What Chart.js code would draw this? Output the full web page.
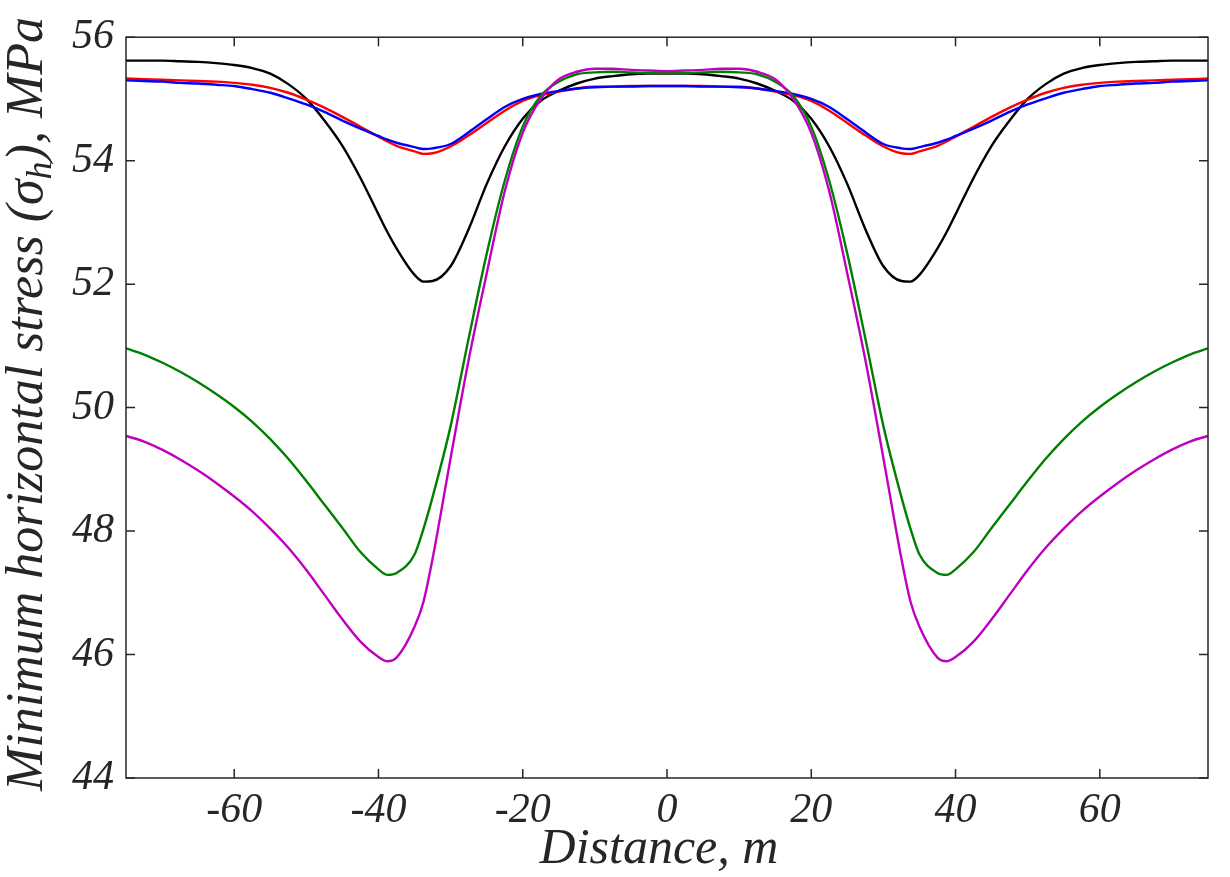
<!DOCTYPE html>
<html>
<head>
<meta charset="utf-8">
<title>Minimum horizontal stress</title>
<script src="https://cdn.jsdelivr.net/npm/chart.js@4.4.0/dist/chart.umd.min.js"></script>
<style>
  html, body { margin: 0; padding: 0; background: #fff; overflow: hidden; }
  #wrap { width: 1230px; height: 877px; position: relative; }
</style>
</head>
<body>
<div id="wrap"><canvas id="stressChart"></canvas></div>
<script>
// Distance along the section, m
var distance = [-75, -72.5, -70, -67.5, -65, -62.5, -60, -57.5, -55, -52.5, -50, -47.5, -45, -42.5, -40, -38.75, -37.5, -35, -33.75, -32.5, -30, -27.5, -25, -22.5, -20, -17.5, -15, -12.5, -10, -7.5, -5, -2.5,
                0,
                2.5, 5, 7.5, 10, 12.5, 15, 17.5, 20, 22.5, 25, 27.5, 30, 32.5, 33.75, 35, 37.5, 38.75, 40, 42.5, 45, 47.5, 50, 52.5, 55, 57.5, 60, 62.5, 65, 67.5, 70, 72.5, 75];

// Minimum horizontal stress, MPa
var stressBlack = [55.62, 55.62, 55.62, 55.61, 55.60, 55.58, 55.55, 55.50, 55.41, 55.24, 55.00, 54.65, 54.24, 53.72, 53.13, 52.84, 52.58, 52.15, 52.04, 52.05, 52.29, 52.89, 53.62, 54.23, 54.68, 54.97, 55.13, 55.25, 55.33, 55.37, 55.40, 55.41,
                   55.41,
                   55.41, 55.40, 55.37, 55.33, 55.25, 55.13, 54.97, 54.68, 54.23, 53.62, 52.89, 52.29, 52.05, 52.04, 52.15, 52.58, 52.84, 53.13, 53.72, 54.24, 54.65, 55.00, 55.24, 55.41, 55.50, 55.55, 55.58, 55.60, 55.61, 55.62, 55.62, 55.62];

var stressRed = [55.33, 55.32, 55.31, 55.30, 55.29, 55.28, 55.26, 55.23, 55.18, 55.10, 54.99, 54.86, 54.71, 54.55, 54.39, 54.31, 54.24, 54.15, 54.11, 54.12, 54.23, 54.41, 54.61, 54.81, 54.97, 55.06, 55.12, 55.17, 55.20, 55.20, 55.21, 55.21,
                 55.21,
                 55.21, 55.21, 55.20, 55.20, 55.17, 55.12, 55.06, 54.97, 54.81, 54.61, 54.41, 54.23, 54.12, 54.11, 54.15, 54.24, 54.31, 54.39, 54.55, 54.71, 54.86, 54.99, 55.10, 55.18, 55.23, 55.26, 55.28, 55.29, 55.30, 55.31, 55.32, 55.33];

var stressBlue = [55.30, 55.29, 55.28, 55.26, 55.25, 55.23, 55.21, 55.16, 55.10, 55.01, 54.91, 54.79, 54.65, 54.52, 54.40, 54.34, 54.29, 54.22, 54.19, 54.20, 54.27, 54.46, 54.67, 54.87, 55.00, 55.08, 55.13, 55.17, 55.19, 55.20, 55.20, 55.21,
                  55.21,
                  55.21, 55.20, 55.20, 55.19, 55.17, 55.13, 55.08, 55.00, 54.87, 54.67, 54.46, 54.27, 54.20, 54.19, 54.22, 54.29, 54.34, 54.40, 54.52, 54.65, 54.79, 54.91, 55.01, 55.10, 55.16, 55.21, 55.23, 55.25, 55.26, 55.28, 55.29, 55.30];

var stressGreen = [50.96, 50.86, 50.73, 50.58, 50.41, 50.22, 50.01, 49.77, 49.49, 49.17, 48.81, 48.43, 48.05, 47.66, 47.38, 47.29, 47.32, 47.62, 48.04, 48.55, 49.70, 51.12, 52.49, 53.67, 54.55, 55.05, 55.28, 55.40, 55.43, 55.44, 55.43, 55.42,
                   55.42,
                   55.42, 55.43, 55.44, 55.43, 55.40, 55.28, 55.05, 54.55, 53.67, 52.49, 51.12, 49.70, 48.55, 48.04, 47.62, 47.32, 47.29, 47.38, 47.66, 48.05, 48.43, 48.81, 49.17, 49.49, 49.77, 50.01, 50.22, 50.41, 50.58, 50.73, 50.86, 50.96];

var stressMagenta = [49.54, 49.45, 49.32, 49.16, 48.98, 48.78, 48.56, 48.32, 48.04, 47.73, 47.37, 46.97, 46.57, 46.21, 45.96, 45.89, 45.95, 46.45, 46.86, 47.55, 49.18, 50.77, 52.17, 53.50, 54.45, 55.00, 55.32, 55.44, 55.49, 55.49, 55.47, 55.46,
                     55.45,
                     55.46, 55.47, 55.49, 55.49, 55.44, 55.32, 55.00, 54.45, 53.50, 52.17, 50.77, 49.18, 47.55, 46.86, 46.45, 45.95, 45.89, 45.96, 46.21, 46.57, 46.97, 47.37, 47.73, 48.04, 48.32, 48.56, 48.78, 48.98, 49.16, 49.32, 49.45, 49.54];

// Tick labels
var xTicks = [-60, -40, -20, 0, 20, 40, 60];
var yTicks = [44, 46, 48, 50, 52, 54, 56];

var axisColor = '#262626';
var fontFamily = "'Liberation Serif', serif";
var tickLen = 9;

function toPoints(xs, ys) {
    return xs.map(function (x, i) { return { x: x, y: ys[i] }; });
}

function line(label, values, color, order) {
    return {
        label: label,
        data: toPoints(distance, values),
        borderColor: color,
        backgroundColor: color,
        borderWidth: 2.4,
        pointRadius: 0,
        fill: false,
        cubicInterpolationMode: 'monotone',
        order: order
    };
}

// MATLAB style box with inward ticks on all four sides
var boxPlugin = {
    id: 'boxTicks',
    afterDatasetsDraw: function (chart) {
        var ctx = chart.ctx, a = chart.chartArea;
        var xs = chart.scales.x, ys = chart.scales.y;
        ctx.save();
        ctx.strokeStyle = axisColor;
        ctx.lineWidth = 1.5;
        ctx.strokeRect(a.left, a.top, a.right - a.left, a.bottom - a.top);
        ctx.beginPath();
        xTicks.forEach(function (v) {
            var px = xs.getPixelForValue(v);
            ctx.moveTo(px, a.bottom); ctx.lineTo(px, a.bottom - tickLen);
            ctx.moveTo(px, a.top); ctx.lineTo(px, a.top + tickLen);
        });
        yTicks.forEach(function (v) {
            var py = ys.getPixelForValue(v);
            ctx.moveTo(a.left, py); ctx.lineTo(a.left + tickLen, py);
            ctx.moveTo(a.right, py); ctx.lineTo(a.right - tickLen, py);
        });
        ctx.stroke();
        ctx.restore();
    }
};

// axis titles; the y one carries a subscript h
var titlePlugin = {
    id: 'axisTitles',
    afterDraw: function (chart) {
        var ctx = chart.ctx;
        var big = 'italic 52px ' + fontFamily;
        var small = 'italic 36px ' + fontFamily;
        var parts = [
            { t: 'Minimum horizontal stress (\u03c3', f: big, dy: 0 },
            { t: 'h', f: small, dy: 9 },
            { t: '), MPa', f: big, dy: 0 }
        ];
        var total = 0;
        parts.forEach(function (p) { ctx.font = p.f; p.w = ctx.measureText(p.t).width; total += p.w; });
        ctx.save();
        ctx.fillStyle = axisColor;
        ctx.textBaseline = 'alphabetic';

        ctx.font = 'italic 50px ' + fontFamily;
        ctx.textAlign = 'center';
        ctx.fillText('Distance, m', 659, 863);

        ctx.translate(42, 404);
        ctx.rotate(-Math.PI / 2);
        ctx.textAlign = 'left';
        var x = -total / 2;
        parts.forEach(function (p) {
            ctx.font = p.f;
            ctx.fillText(p.t, x, p.dy);
            x += p.w;
        });
        ctx.restore();
    }
};

document.addEventListener('DOMContentLoaded', function () {
    var ctx = document.getElementById('stressChart').getContext('2d');
    var stressChart = new Chart(ctx, {
        type: 'line',
        data: {
            datasets: [
                line('Black', stressBlack, '#000000', 5),
                line('Red', stressRed, '#ff0000', 4),
                line('Blue', stressBlue, '#0000ff', 3),
                line('Green', stressGreen, '#008000', 2),
                line('Magenta', stressMagenta, '#c000c0', 1)
            ]
        },
        options: {
            responsive: true,
            maintainAspectRatio: false,
            animation: false,
            layout: { padding: { top: 27, right: 22, left: 0, bottom: 0 } },
            plugins: {
                legend: { display: false },
                tooltip: { enabled: false }
            },
            scales: {
                x: {
                    type: 'linear',
                    min: -75,
                    max: 75,
                    grid: { display: false, drawTicks: false },
                    border: { display: false },
                    afterBuildTicks: function (axis) {
                        axis.ticks = xTicks.map(function (v) { return { value: v }; });
                    },
                    afterFit: function (scale) { scale.height = 99; },
                    ticks: {
                        color: axisColor,
                        padding: 8,
                        maxRotation: 0,
                        font: { family: fontFamily, style: 'italic', size: 42 }
                    }
                },
                y: {
                    type: 'linear',
                    min: 44,
                    max: 56,
                    grid: { display: false, drawTicks: false },
                    border: { display: false },
                    afterBuildTicks: function (axis) {
                        axis.ticks = yTicks.map(function (v) { return { value: v }; });
                    },
                    afterFit: function (scale) { scale.width = 126; },
                    ticks: {
                        color: axisColor,
                        padding: 12,
                        font: { family: fontFamily, style: 'italic', size: 42 }
                    }
                }
            }
        },
        plugins: [boxPlugin, titlePlugin]
    });
});
</script>
</body>
</html>
